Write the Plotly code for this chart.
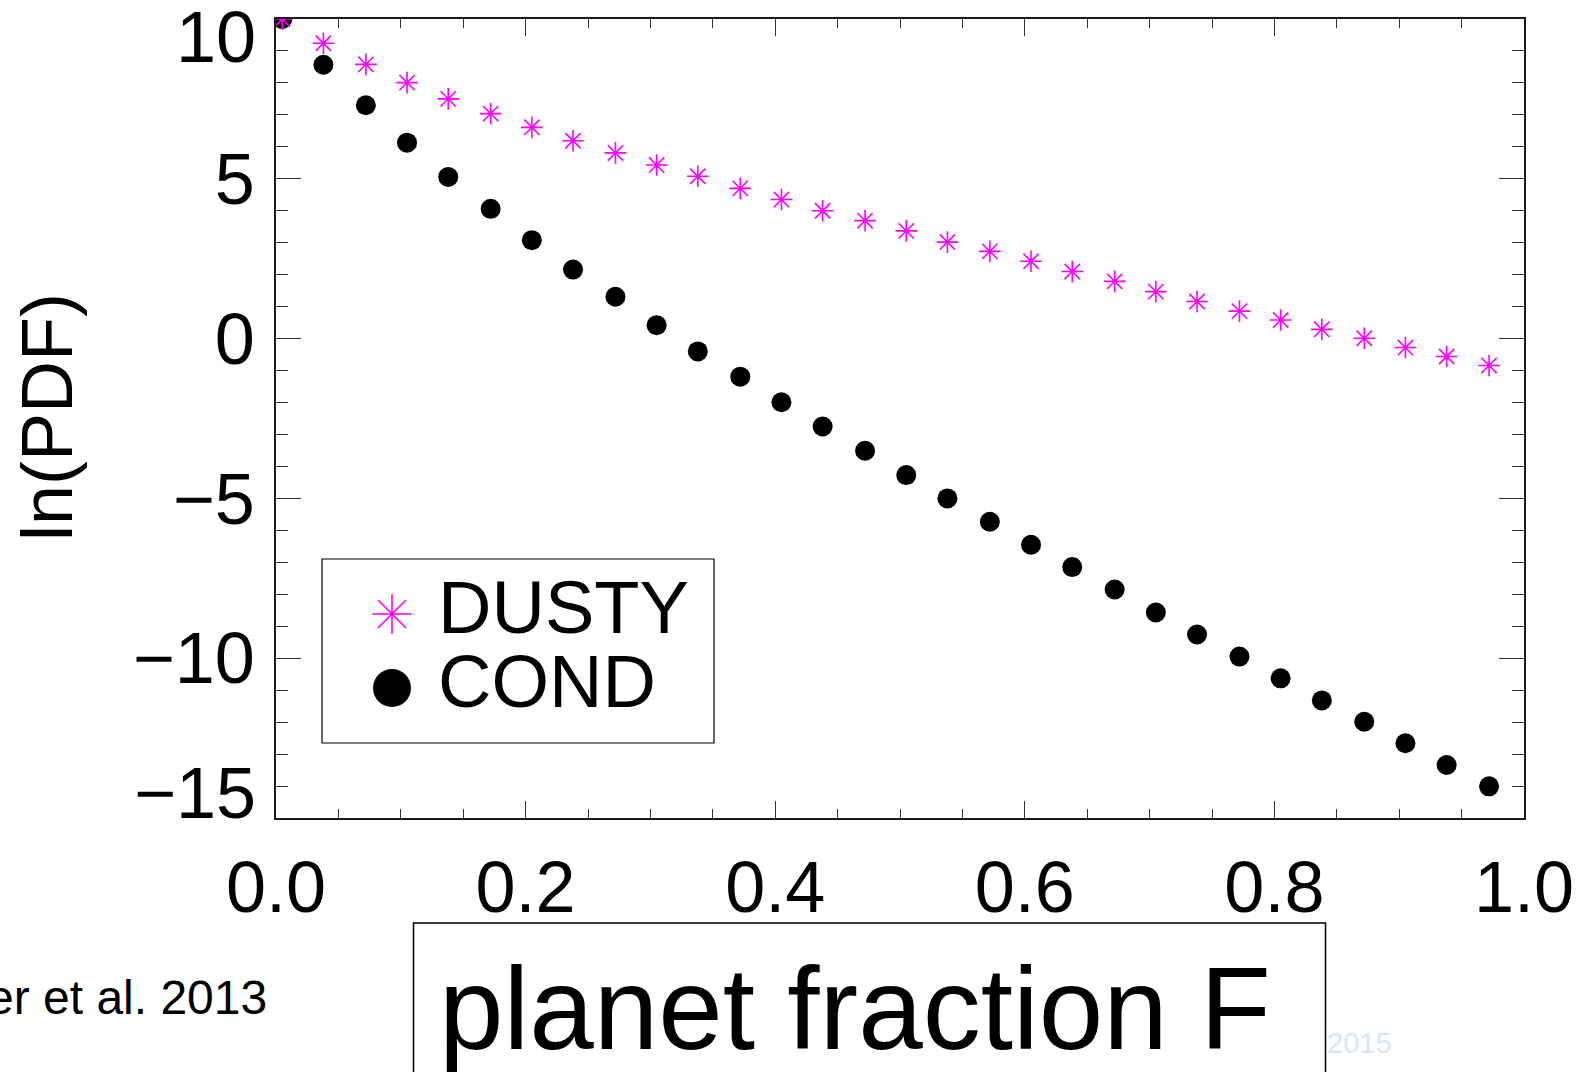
import plotly.graph_objects as go

# ---------------- data ----------------
F = [0.005, 0.038, 0.072, 0.105, 0.138, 0.172, 0.205, 0.238, 0.272, 0.305,
     0.338, 0.372, 0.405, 0.438, 0.472, 0.505, 0.538, 0.572, 0.605, 0.638,
     0.672, 0.705, 0.738, 0.772, 0.805, 0.838, 0.872, 0.905, 0.938, 0.972]

dusty = [10.0, 9.24, 8.58, 8.01, 7.50, 7.04, 6.61, 6.19, 5.81, 5.43,
         5.08, 4.70, 4.35, 4.00, 3.69, 3.37, 3.02, 2.73, 2.42, 2.10,
         1.79, 1.47, 1.16, 0.86, 0.58, 0.29, 0.01, -0.28, -0.56, -0.84]

cond = [10.0, 8.57, 7.30, 6.13, 5.06, 4.06, 3.08, 2.16, 1.31, 0.42,
        -0.40, -1.19, -1.99, -2.75, -3.51, -4.27, -5.00, -5.73, -6.45, -7.15,
        -7.85, -8.57, -9.26, -9.95, -10.63, -11.32, -11.99, -12.66, -13.34, -14.01]

x_tick_vals = [0.0, 0.2, 0.4, 0.6, 0.8, 1.0]
x_tick_text = ["0.0", "0.2", "0.4", "0.6", "0.8", "1.0"]
y_tick_vals = [-15, -10, -5, 0, 5, 10]
y_tick_text = ["\u221215", "\u221210", "\u22125", "0", "5", "10"]

legend_labels = ["DUSTY", "COND"]
x_title = "planet fraction F"
y_title = "ln(PDF)"
credit = "er et al. 2013"
footer = "2015"

# ---------------- layout geometry (pixels) ----------------
W, H = 1588, 1072
ML, MR, MT, MB = 276, 64, 19, 254
PW, PH = W - ML - MR, H - MT - MB
FONT = "Liberation Sans, Arial, Helvetica, sans-serif"
MAGENTA = "#ff00ff"


def xp(px):
    return (px - ML) / PW


def yp(py):
    return (H - MB - py) / PH


fig = go.Figure()

# data series
fig.add_trace(go.Scatter(
    x=F, y=cond, mode="markers", name=legend_labels[1], showlegend=False,
    marker=dict(symbol="circle", size=20, color="black", line=dict(width=0)),
))
fig.add_trace(go.Scatter(
    x=F, y=dusty, mode="markers", name=legend_labels[0], showlegend=False,
    marker=dict(symbol="asterisk-open", size=18, color=MAGENTA,
                line=dict(color=MAGENTA, width=1.6)),
))

# hand-made legend (large symbols as in the reference)
leg_sym_x = xp(392)
fig.add_trace(go.Scatter(
    x=[leg_sym_x], y=[yp(614)], xaxis="x2", yaxis="y2", mode="markers",
    showlegend=False, hoverinfo="skip",
    marker=dict(symbol="asterisk-open", size=33, color=MAGENTA,
                line=dict(color=MAGENTA, width=1.6)),
))
fig.add_trace(go.Scatter(
    x=[leg_sym_x], y=[yp(688)], xaxis="x2", yaxis="y2", mode="markers",
    showlegend=False, hoverinfo="skip",
    marker=dict(symbol="circle", size=38, color="black", line=dict(width=0)),
))

annotations = []
for lbl, cy in zip(legend_labels, [607, 681]):
    annotations.append(dict(
        text=lbl, xref="paper", yref="paper", x=xp(437), y=yp(cy),
        xanchor="left", yanchor="middle", showarrow=False, height=72,
        valign="middle", borderpad=0,
        font=dict(family=FONT, size=74, color="black"),
    ))

# end tick labels (drawn inset like the reference)
annotations.append(dict(
    text=y_tick_text[-1], xref="paper", yref="y", x=0, y=y_tick_vals[-1],
    xanchor="right", yanchor="middle", xshift=-18, yshift=-17.5,
    showarrow=False, font=dict(family=FONT, size=72, color="black"),
))
annotations.append(dict(
    text=y_tick_text[0], xref="paper", yref="y", x=0, y=y_tick_vals[0],
    xanchor="right", yanchor="middle", xshift=-18, yshift=25,
    showarrow=False, font=dict(family=FONT, size=72, color="black"),
))

# axis titles and texts
annotations.append(dict(
    text=y_title, xref="paper", yref="paper", x=xp(46.5), y=yp(416.5),
    xanchor="center", yanchor="middle", textangle=-90, showarrow=False,
    font=dict(family=FONT, size=72, color="black"),
))
annotations.append(dict(
    text=x_title, xref="paper", yref="paper", x=xp(854.5), y=yp(1009.5),
    xanchor="center", yanchor="middle", showarrow=False,
    font=dict(family=FONT, size=116, color="black"),
))
annotations.append(dict(
    text=credit, xref="paper", yref="paper", x=xp(269), y=yp(997),
    xanchor="right", yanchor="middle", showarrow=False,
    font=dict(family=FONT, size=48, color="black"),
))
annotations.append(dict(
    text=footer, xref="paper", yref="paper", x=xp(1325), y=yp(1043),
    xanchor="left", yanchor="middle", showarrow=False,
    font=dict(family=FONT, size=29, color="#d4e8fb"),
))

shapes = [
    # legend box
    dict(type="rect", xref="paper", yref="paper",
         x0=xp(322), x1=xp(714), y0=yp(743), y1=yp(559),
         line=dict(color="black", width=1.2), fillcolor="rgba(0,0,0,0)"),
    # x-title box
    dict(type="rect", xref="paper", yref="paper",
         x0=xp(413.5), x1=xp(1325.5), y0=yp(1110), y1=yp(923),
         line=dict(color="black", width=1.5), fillcolor="rgba(0,0,0,0)"),
]

axis_common = dict(
    showgrid=False, zeroline=False, showline=True, linecolor="#1a1a1a",
    linewidth=1.5, mirror="ticks", ticks="inside", tickcolor="#333333",
    tickwidth=1.3, tickfont=dict(family=FONT, size=72, color="black"),
)

fig.update_layout(
    width=W, height=H, autosize=False,
    margin=dict(l=ML, r=MR, t=MT, b=MB),
    paper_bgcolor="white", plot_bgcolor="white",
    showlegend=False,
    xaxis=dict(
        range=[0, 1], tickmode="array", tickvals=x_tick_vals, ticktext=x_tick_text,
        ticklen=17, ticklabelstandoff=6,
        minor=dict(dtick=0.05, ticklen=9, ticks="inside", tickcolor="#333333",
                   tickwidth=1.2, showgrid=False),
        **axis_common,
    ),
    yaxis=dict(
        range=[-15, 10], tickmode="array", tickvals=y_tick_vals,
        ticktext=[""] + y_tick_text[1:-1] + [""],
        ticklen=25, ticklabelstandoff=5,
        minor=dict(dtick=1, ticklen=12.5, ticks="inside", tickcolor="#333333",
                   tickwidth=1.2, showgrid=False),
        **axis_common,
    ),
    xaxis2=dict(overlaying="x", range=[0, 1], visible=False),
    yaxis2=dict(overlaying="y", range=[0, 1], visible=False),
    annotations=annotations,
    shapes=shapes,
)

fig.write_html("out.html")
